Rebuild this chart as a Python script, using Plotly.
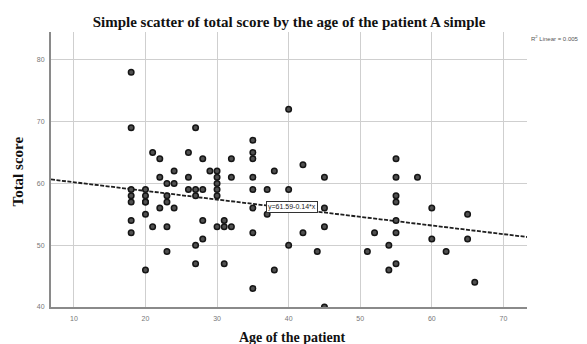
import plotly.graph_objects as go

age = [18, 18, 18, 18, 18, 18, 18,
       20, 20, 20, 20, 20, 20,
       21, 21,
       22, 22, 22,
       23, 23, 23, 23, 23,
       24, 24, 24,
       26, 26, 26,
       27, 27, 27, 27, 27,
       28, 28, 28, 28,
       29,
       30, 30, 30, 30, 30, 30,
       31, 31, 31,
       32, 32, 32,
       35, 35, 35, 35, 35, 35, 35, 35,
       37, 37,
       38, 38,
       40, 40, 40,
       42, 42,
       44,
       45, 45, 45, 45,
       51, 52, 54, 54,
       55, 55, 55, 55, 55, 55, 55,
       58,
       60, 60,
       62,
       65, 65,
       66]
score = [78, 69, 59, 58, 57, 54, 52,
         59, 58, 57, 57, 55, 46,
         65, 53,
         64, 61, 56,
         60, 58, 57, 53, 49,
         62, 60, 56,
         65, 61, 59,
         69, 59, 58, 50, 47,
         64, 59, 54, 51,
         62,
         62, 61, 60, 59, 58, 53,
         54, 53, 47,
         64, 61, 53,
         67, 65, 64, 61, 59, 56, 52, 43,
         59, 55,
         62, 46,
         72, 59, 50,
         63, 52,
         49,
         61, 56, 53, 40,
         49, 52, 50, 46,
         64, 61, 58, 57, 54, 52, 47,
         61,
         56, 51,
         49,
         55, 51,
         44]

x_range = [6.8, 73.3]
y_range = [40, 84.5]
x_ticks = [10, 20, 30, 40, 50, 60, 70]
y_ticks = [40, 50, 60, 70, 80]
intercept = 61.59
slope = -0.14
r2_label = "R<sup>2</sup> Linear = 0.005"
eq_label = "y=61.59-0.14*x"
eq_pos = (40.4, 56.2)

fit_x = x_range
fit_y = [intercept + slope * v for v in fit_x]

serif = "Liberation Serif, Times New Roman, serif"
sans = "Liberation Sans, Arial, sans-serif"

fig = go.Figure()
fig.add_trace(go.Scatter(
    x=fit_x, y=fit_y, mode="lines",
    line=dict(color="#1e1e1e", width=1.8, dash="4px,1.5px"),
    hoverinfo="skip", showlegend=False))
fig.add_trace(go.Scatter(
    x=age, y=score, mode="markers",
    marker=dict(size=5.5, color="#505050", line=dict(color="#151515", width=1.5)),
    showlegend=False))

fig.update_layout(
    width=587, height=344,
    margin=dict(l=51, r=60, t=32, b=37),
    paper_bgcolor="white", plot_bgcolor="white",
    title=dict(text="<b>Simple scatter of total score by the age of the patient A simple</b>",
               x=293.5 / 587, xref="paper", xanchor="center",
               y=1 - 22 / 344, yref="container", yanchor="middle",
               font=dict(family=serif, size=15, color="#111111")),
    xaxis=dict(range=x_range, tickvals=x_ticks, showgrid=True, gridcolor="#cfcfcf", gridwidth=1,
               zeroline=False, showline=True, linecolor="#8a8a8a", linewidth=2,
               ticks="", ticklabelstandoff=4,
               tickfont=dict(family=sans, size=7, color="#777777")),
    yaxis=dict(range=y_range, tickvals=y_ticks, showgrid=True, gridcolor="#cfcfcf", gridwidth=1,
               zeroline=False, showline=True, linecolor="#8a8a8a", linewidth=2,
               ticks="", ticklabelstandoff=3,
               tickfont=dict(family=sans, size=7, color="#777777")),
    annotations=[
        dict(text="<b>Total score</b>", xref="paper", yref="paper",
             x=-34 / 476, y=1 - (171.5 - 32) / 275, textangle=-90, showarrow=False,
             xanchor="center", yanchor="middle",
             font=dict(family=serif, size=15, color="#111111")),
        dict(text="<b>Age of the patient</b>", xref="paper", yref="paper",
             x=(292 - 51) / 476, y=-(337 - 307) / 275, showarrow=False,
             xanchor="center", yanchor="middle",
             font=dict(family=serif, size=14, color="#111111")),
        dict(text=r2_label, xref="paper", yref="paper",
             x=1.004, y=1 - (38 - 32) / 275, showarrow=False,
             xanchor="left", yanchor="middle",
             font=dict(family=sans, size=6, color="#555555")),
        dict(text=eq_label, x=eq_pos[0], y=eq_pos[1], xref="x", yref="y",
             showarrow=False, xanchor="center", yanchor="middle",
             bgcolor="white", bordercolor="#333333", borderwidth=1, borderpad=1,
             font=dict(family=sans, size=7, color="#222222")),
    ],
)

fig.write_html("out.html")
